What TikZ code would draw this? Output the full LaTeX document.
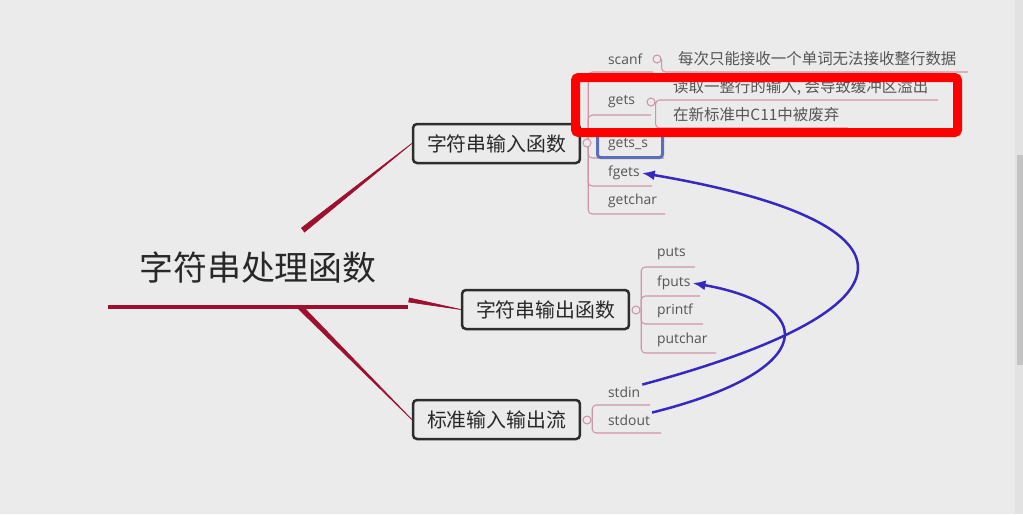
\documentclass[tikz,border=0pt]{standalone}
\usepackage{fontspec}
\setmainfont{Noto Sans CJK SC}
\newfontfamily\leaffont{Open Sans}
\usepackage{tikz}
\usetikzlibrary{arrows.meta, positioning, calc}
\usepackage{xcolor}

\definecolor{bgcol}{RGB}{235,235,235}
\definecolor{trunkred}{RGB}{158,16,48}
\definecolor{twigpink}{RGB}{205,150,165}
\definecolor{boxline}{RGB}{45,45,45}
\definecolor{inkgray}{RGB}{40,40,40}
\definecolor{leafgray}{RGB}{85,85,85}
\definecolor{flowblue}{RGB}{55,40,190}
\definecolor{selblue}{RGB}{90,110,185}
\definecolor{markred}{RGB}{255,0,0}
\definecolor{thumbgray}{RGB}{195,195,195}

\begin{document}
\begin{tikzpicture}[
    x=0.02cm, y=-0.02cm,
    topic/.style={draw=boxline, line width=0.05cm, rounded corners=0.08cm, minimum width=3.34cm, minimum height=0.78cm, fill=bgcol, text=inkgray, font=\fontsize{11.3}{13}\selectfont},
    leaf/.style={anchor=west, inner sep=1pt, text=leafgray, font=\leaffont\fontsize{7.9}{9}\selectfont},
    note/.style={anchor=west, inner sep=1pt, text=leafgray, font=\fontsize{8.8}{10}\selectfont},
    knob/.style={circle, draw=twigpink, fill=bgcol, line width=0.6pt, inner sep=0pt, minimum size=0.16cm},
    twig/.style={draw=twigpink, line width=0.6pt, rounded corners=0.08cm},
    trunk/.style={fill=trunkred, draw=trunkred, line width=0.4pt},
    flow/.style={draw=flowblue, line width=0.05cm, -{Latex[length=0.26cm, width=0.2cm]}}
]
\useasboundingbox (0,0) rectangle (1023,514);
\fill[bgcol] (0,0) rectangle (1023,514);
\fill[gray!8!bgcol] (1015,0) rectangle (1023,514);
\fill[thumbgray] (1017,155) rectangle (1023,365);

% root topic
\node[text=inkgray, font=\fontsize{19.3}{22}\selectfont] (root) at (258,268) {字符串处理函数};
\coordinate (ul) at (108,307);
\coordinate (ur) at (408,307);
\draw[trunkred, line width=0.08cm] (ul) -- (ur);

% main topics
\node[topic] (box1) at (496.5,143.5) {字符串输入函数};
\node[topic] (box2) at (545.5,309.5) {字符串输出函数};
\node[topic] (box3) at (496.5,419.5) {标准输入输出流};

\coordinate (r1) at (303,230);
\coordinate (r2) at (409,300);
\coordinate (r3) at (300,307);
\fill[trunk] ($(r1)+(-1.5,-2)$) -- ($(r1)+(1.5,2)$) -- (box1.west) -- cycle;
\fill[trunk] ($(r2)+(0.4,-2)$) -- ($(r2)+(-0.4,2)$) -- (box2.west) -- cycle;
\fill[trunk] ($(r3)+(1.7,-1.8)$) -- ($(r3)+(-1.7,1.8)$) -- (box3.west) -- cycle;

% input functions
\node[leaf] (scanf) at (606,59) {scanf};
\node[leaf] (gets) at (606,102) {gets};
\node[leaf] (getss) at (606,145) {gets\_s};
\node[leaf] (fgets) at (606,173) {fgets};
\node[leaf] (getchar) at (606,201) {getchar};

\draw[twig] (box1.east) ++(7,0) |- ($(scanf.west)+(47,13)$);
\draw[twig] (box1.east) ++(7,0) |- ($(gets.west)+(45,13)$);
\draw[twig] (box1.east) ++(7,0) |- ($(getss.west)+(58,13)$);
\draw[twig] (box1.east) ++(7,0) |- ($(fgets.west)+(46,13)$);
\draw[twig] (box1.east) ++(7,0) |- ($(getchar.west)+(59,13)$);
\node[knob] (c1) at (587,143) {};

% notes on scanf and gets
\node[note] (d0) at (676,59) {每次只能接收一个单词无法接收整行数据};
\node[note] (d1) at (671,87) {读取一整行的输入, 会导致缓冲区溢出};
\node[note] (d2) at (671,115) {在新标准中C11中被废弃};
\node[knob] (cs) at (657,59) {};
\node[knob] (cg) at (651,102) {};
\draw[twig] (cs.east) |- ($(d0.west)+(292,13)$);
\draw[twig] (cg.east) |- ($(d1.west)+(267,13)$);
\draw[twig] (cg.east) |- ($(d2.west)+(177,13)$);

% output functions
\node[leaf] (puts) at (655,254) {puts};
\node[leaf] (fputs) at (655,283) {fputs};
\node[leaf] (printf) at (655,311) {printf};
\node[leaf] (putchar) at (655,340) {putchar};

\draw[twig] (box2.east) ++(11,0) |- ($(puts.west)+(40,13)$);
\draw[twig] (box2.east) ++(11,0) |- ($(fputs.west)+(45,13)$);
\draw[twig] (box2.east) ++(11,0) |- ($(printf.west)+(48,13)$);
\draw[twig] (box2.east) ++(11,0) |- ($(putchar.west)+(61,13)$);
\node[knob] (c2) at (636,310) {};

% streams
\node[leaf] (stdin) at (606,392) {stdin};
\node[leaf] (stdout) at (606,420) {stdout};

\draw[twig] (box3.east) ++(11,0) |- ($(stdin.west)+(44,13)$);
\draw[twig] (box3.east) ++(11,0) |- ($(stdout.west)+(55,13)$);
\node[knob] (c3) at (587,420) {};

% selection and highlight
\draw[selblue, line width=0.06cm, rounded corners=0.06cm] (597.5,129.5) rectangle (662.5,157.5);
\draw[markred, line width=0.18cm, rounded corners=0.06cm] (575.5,77.5) rectangle (957.5,132.5);

% relations
\draw[flow] (stdin.north east) .. controls (938,305) and (918,220) .. (fgets.east);
\draw[flow] (stdout.north east) .. controls (822,370) and (817,305) .. (fputs.east);

\end{tikzpicture}
\end{document}
